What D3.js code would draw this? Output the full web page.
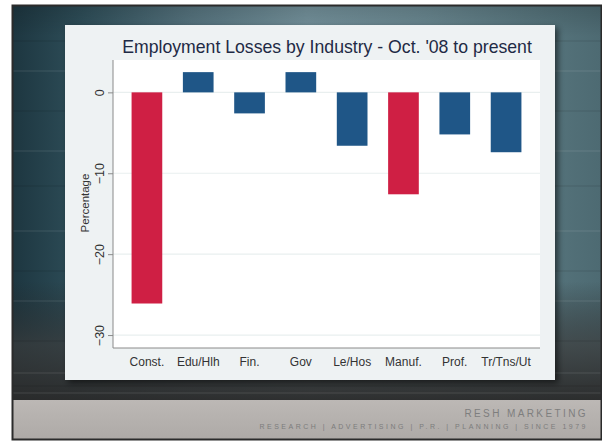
<!DOCTYPE html>
<html><head><meta charset="utf-8">
<script src="https://cdn.jsdelivr.net/npm/d3@7"></script>
<style>html,body{margin:0;padding:0;background:#fff;}svg{display:block;}</style>
</head><body>
<script>
const categories = ["Const.","Edu/Hlh","Fin.","Gov","Le/Hos","Manuf.","Prof.","Tr/Tns/Ut"];
const values = [-26.1, 2.5, -2.6, 2.5, -6.6, -12.6, -5.2, -7.4];
const highlighted = ["Const.","Manuf."];
const yTicks = [0, -10, -20, -30];
const titleText = "Employment Losses by Industry - Oct. '08 to present";
const yTitle = "Percentage";
const brand = "RESH MARKETING";
const tagline = "RESEARCH  |  ADVERTISING  |  P.R.  |  PLANNING  |  SINCE 1979";

const W = 602, H = 444;
const svg = d3.select("body").append("svg").attr("width", W).attr("height", H);
const defs = svg.append("defs");

const g1 = defs.append("linearGradient").attr("id","bgH").attr("x1",0).attr("x2",1).attr("y1",0).attr("y2",0);
[[0,"#1d3640"],[0.12,"#2f4f5a"],[0.3,"#56747f"],[0.5,"#75939d"],[0.7,"#6a8891"],[0.9,"#56747c"],[1,"#4d6a72"]]
  .forEach(([o,c])=>g1.append("stop").attr("offset",o).attr("stop-color",c));
const g2 = defs.append("linearGradient").attr("id","bgV").attr("x1",0).attr("x2",0).attr("y1",0).attr("y2",1);
[[0,"#000",0.15],[0.08,"#000",0],[0.7,"#222",0],[0.86,"#3a3a3a",0.7],[1,"#2a2a2a",0.95]]
  .forEach(([o,c,a])=>g2.append("stop").attr("offset",o).attr("stop-color",c).attr("stop-opacity",a));
const g3 = defs.append("linearGradient").attr("id","band").attr("x1",0).attr("x2",0).attr("y1",0).attr("y2",1);
[[0,"#bcb8b5"],[1,"#aeaaa7"]].forEach(([o,c])=>g3.append("stop").attr("offset",o).attr("stop-color",c));
const sh = defs.append("filter").attr("id","shadow").attr("x","-10%").attr("y","-10%").attr("width","130%").attr("height","130%");
sh.append("feDropShadow").attr("dx",3).attr("dy",3).attr("stdDeviation",3).attr("flood-color","#000").attr("flood-opacity",0.55);

const frame = {x:12, y:5, w:590, h:435};
svg.append("rect").attr("x",frame.x).attr("y",frame.y).attr("width",frame.w).attr("height",frame.h).attr("fill","url(#bgH)");
svg.append("rect").attr("x",frame.x).attr("y",frame.y).attr("width",frame.w).attr("height",395).attr("fill","url(#bgV)");
const streakYs = [40, 70, 110, 150, 185, 230, 270, 300, 340, 372, 385, 392];
svg.append("g").selectAll("rect").data(streakYs).join("rect")
  .attr("x",frame.x).attr("width",frame.w).attr("y",d=>d).attr("height",2)
  .attr("fill",(d,i)=> i%2 ? "#ffffff" : "#000000").attr("opacity",0.06);
svg.append("rect").attr("x",frame.x).attr("y",400).attr("width",frame.w).attr("height",39).attr("fill","url(#band)");
svg.append("rect").attr("x",frame.x+0.5).attr("y",frame.y+0.5).attr("width",frame.w-1).attr("height",frame.h-1)
  .attr("fill","none").attr("stroke","#2b2b2b").attr("stroke-width",2);

svg.append("text").attr("x",588).attr("y",416.5).attr("text-anchor","end")
  .attr("font-family","Liberation Sans, Arial, sans-serif").attr("font-size",10).attr("letter-spacing",2.4)
  .attr("fill","#7e7e7e").text(brand);
svg.append("text").attr("x",588).attr("y",428.5).attr("text-anchor","end")
  .attr("font-family","Liberation Sans, Arial, sans-serif").attr("font-size",7).attr("letter-spacing",2.5)
  .attr("fill","#7c7c7c").text(tagline);

svg.append("rect").attr("x",65).attr("y",25).attr("width",490).attr("height",355)
  .attr("fill","#eef2f3").attr("filter","url(#shadow)");

const plot = {l:113, r:540, t:60, b:348};
svg.append("rect").attr("x",plot.l).attr("y",plot.t).attr("width",plot.r-plot.l).attr("height",plot.b-plot.t).attr("fill","#ffffff");

const x = d3.scaleBand().domain(categories).range([plot.l, plot.r]).paddingInner(0.402).paddingOuter(0.362);
const y = d3.scaleLinear().domain([-31.6, 4]).range([plot.b, plot.t]);

svg.append("g").selectAll("line").data(yTicks).join("line")
  .attr("x1",plot.l).attr("x2",plot.r).attr("y1",d=>y(d)).attr("y2",d=>y(d))
  .attr("stroke","#e9efef").attr("stroke-width",1.2);

svg.append("g").selectAll("rect").data(categories).join("rect")
  .attr("x",d=>x(d)).attr("width",x.bandwidth())
  .attr("y",(d,i)=>y(Math.max(0,values[i])))
  .attr("height",(d,i)=>Math.abs(y(values[i])-y(0)))
  .attr("fill",d=>highlighted.includes(d) ? "#cf1f44" : "#1f5687");

const ya = svg.append("g").attr("transform",`translate(${plot.l},0)`)
  .call(d3.axisLeft(y).tickValues(yTicks).tickSize(5).tickPadding(6).tickSizeOuter(0));
ya.select(".domain").attr("stroke","#8a8a8a").attr("d",`M0,${plot.t}V${plot.b}`);
ya.selectAll(".tick line").attr("stroke","#8a8a8a");
ya.selectAll(".tick text").attr("font-family","Liberation Sans, Arial, sans-serif").attr("font-size",12.5)
  .attr("fill","#333")
  .attr("x",null).attr("text-anchor","middle")
  .attr("transform","translate(-13,0) rotate(-90)").attr("y",0).attr("dy","0.35em");

const xa = svg.append("g").attr("transform",`translate(0,${plot.b})`)
  .call(d3.axisBottom(x).tickSize(0).tickPadding(9));
xa.select(".domain").attr("stroke","#8a8a8a").attr("d",`M${plot.l},0H${plot.r}`);
xa.selectAll(".tick text").attr("font-family","Liberation Sans, Arial, sans-serif").attr("font-size",12)
  .attr("fill","#333");

svg.append("text").attr("transform",`translate(89,203) rotate(-90)`).attr("text-anchor","middle")
  .attr("font-family","Liberation Sans, Arial, sans-serif").attr("font-size",11.5).attr("fill","#333").text(yTitle);

const title = svg.append("text").attr("x",(122+532)/2).attr("y",53).attr("text-anchor","middle")
  .attr("font-family","Liberation Sans, Arial, sans-serif").attr("font-size",18).attr("fill","#1e2a45").text(titleText);
const tw = title.node().getComputedTextLength();
title.attr("font-size", 18*410/tw);
</script>
</body></html>
